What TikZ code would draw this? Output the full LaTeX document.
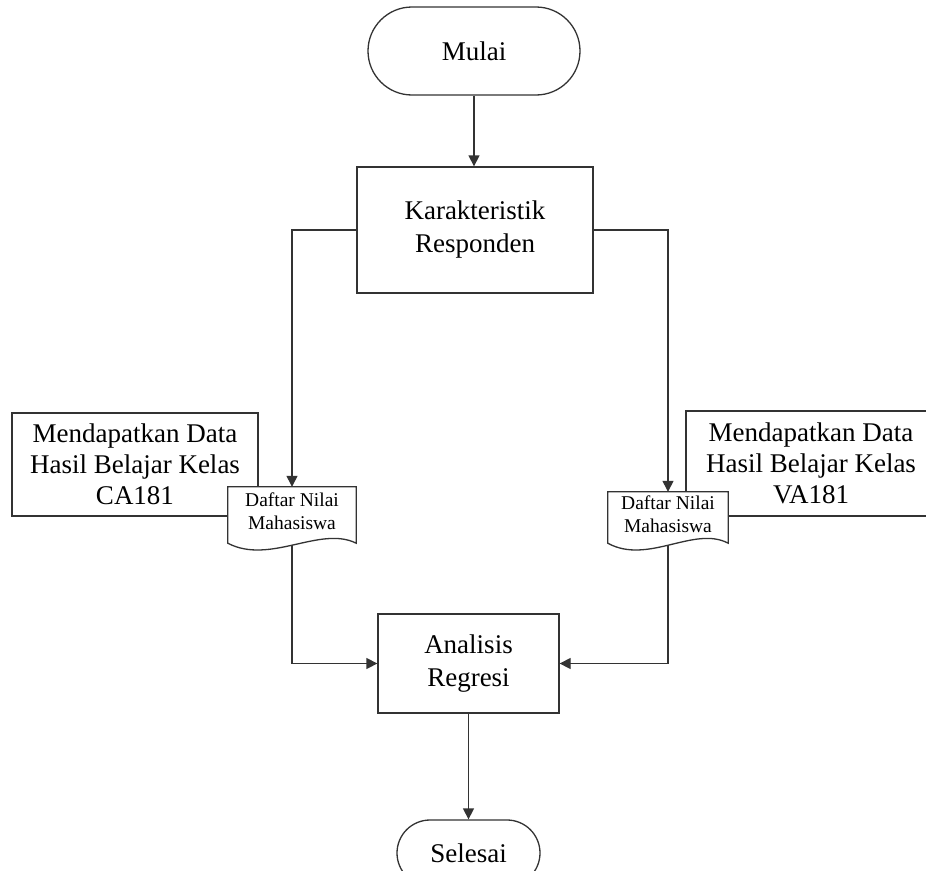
\documentclass[tikz,border=0pt]{standalone}
\usepackage{fontspec}
\setmainfont{Liberation Serif}
\usetikzlibrary{arrows.meta,positioning,calc}
\pgfdeclarelayer{canvas}
\pgfdeclarelayer{bgzero}
\pgfdeclarelayer{bgone}
\pgfsetlayers{canvas,bgzero,bgone,main}
\tikzset{
  lw/.style={line width=1.3pt, draw=black!80},
  terminal/.style={lw, align=center, font=\fontsize{27}{33}\selectfont, inner sep=0pt},
  procbox/.style={lw, rectangle, align=center, font=\fontsize{27}{33}\selectfont, inner sep=0pt},
  textbox/.style={lw, rectangle, fill=white, align=center, font=\fontsize{27}{31}\selectfont, inner sep=0pt},
  docbox/.style={draw=none, rectangle, align=center, font=\fontsize{19.5}{23}\selectfont, inner sep=0pt},
  docshape/.style={lw, fill=white},
  arr/.style={lw, -{Triangle[length=11pt,width=11pt]}}
}
\begin{document}
\begin{tikzpicture}[x=1pt,y=-1pt]
\useasboundingbox (0,0) rectangle (926,870);
\begin{pgfonlayer}{canvas}
\fill[white] (0,0) rectangle (926,870);
\end{pgfonlayer}
% flow nodes
\node[terminal, minimum width=212pt, minimum height=88pt, rounded corners=44pt] (mulai) at (474,51) {Mulai};
\node[procbox, minimum width=236pt, minimum height=126pt] (karak) at (475,230) {Karakteristik\\Responden};
\node[procbox, minimum width=181pt, minimum height=99pt] (anal) at (468.5,663.5) {Analisis\\Regresi};
\node[terminal, minimum width=143pt, minimum height=66pt, rounded corners=33pt] (selesai) at (468.5,853) {Selesai};
% document nodes (text only; outline drawn on a lower layer)
\node[docbox, minimum width=128pt, minimum height=56pt] (d1) at (292,515) {Daftar Nilai\\Mahasiswa\strut};
\node[docbox, minimum width=120pt, minimum height=51pt] (d2) at (668,517.5) {Daftar Nilai\\Mahasiswa\strut};
% source text boxes behind documents
\begin{pgfonlayer}{bgzero}
\node[textbox, minimum width=246pt, minimum height=103pt] (src1) at (135,464.5) {Mendapatkan Data\\Hasil Belajar Kelas\\CA181};
\node[textbox, minimum width=250pt, minimum height=105pt] (src2) at (811,463.5) {Mendapatkan Data\\Hasil Belajar Kelas\\VA181};
\end{pgfonlayer}
\begin{pgfonlayer}{bgone}
\draw[docshape] (d1.south east) -- (d1.north east) -- (d1.north west) -- (d1.south west)
  .. controls ($(d1.south west)+(42,22)$) and ($(d1.south east)+(-36,-18)$) .. (d1.south east) -- cycle;
\draw[docshape] (d2.south east) -- (d2.north east) -- (d2.north west) -- (d2.south west)
  .. controls ($(d2.south west)+(40,22)$) and ($(d2.south east)+(-34,-18)$) .. (d2.south east) -- cycle;
\end{pgfonlayer}
% connectors
\draw[arr] (mulai.south) -- (mulai.south |- karak.north);
\draw[arr] (karak.west) -| (d1.north);
\draw[arr] (karak.east) -| (d2.north);
\draw[arr] ($(d1.south)+(0,2)$) |- (anal.west);
\draw[arr] ($(d2.south)+(0,2)$) |- (anal.east);
\draw[arr] (anal.south) -- (selesai.north);
\end{tikzpicture}
\end{document}
